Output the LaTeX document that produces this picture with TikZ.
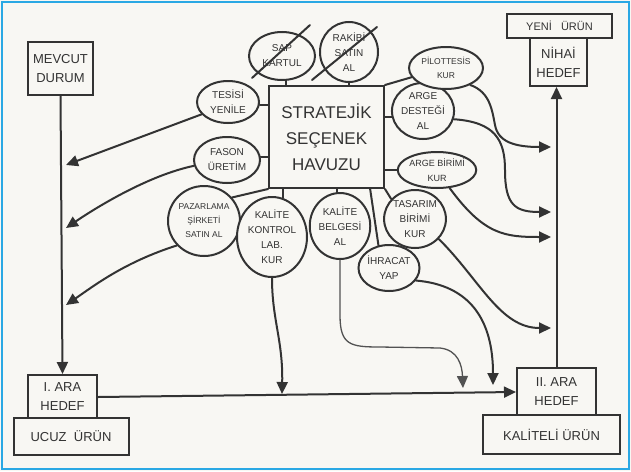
\documentclass[tikz,border=0pt]{standalone}
\usepackage{fontspec}
\setmainfont{Liberation Sans}
\usetikzlibrary{shapes.geometric,arrows.meta}
\definecolor{ink}{HTML}{333333}
\definecolor{paper}{HTML}{F8F7F3}
\definecolor{frame}{HTML}{2AA8E4}
\tikzset{
  ln/.style={draw=ink,line width=2pt,line cap=round,line join=round},
  arr/.style={ln,-{Triangle[length=12pt,width=11pt]}},
  box/.style={rectangle,draw=ink,line width=2pt,fill=paper,inner sep=0pt,align=center,text=ink,font=\fontsize{13}{19}\selectfont},
  oval/.style={ellipse,draw=ink,line width=2pt,fill=paper,inner sep=0pt,align=center,text=ink,font=\fontsize{10}{15}\selectfont},
}
\begin{document}
\begin{tikzpicture}[x=1pt,y=-1pt]
\useasboundingbox (0,0) rectangle (631,471);
\fill[paper] (0,0) rectangle (631,471);
\draw[frame,line width=2.2pt] (2,2) rectangle (629,469);

% boxes
\node[box,minimum width=65pt,minimum height=53pt] (mevcut) at (60.5,68.5) {MEVCUT\\DURUM};
\node[box,minimum width=69pt,minimum height=44pt] (iara) at (62.5,397) {I. ARA\\HEDEF};
\node[box,minimum width=115pt,minimum height=37pt] (ucuz) at (71,436) {UCUZ \ ÜRÜN};
\node[box,minimum width=79pt,minimum height=48pt] (iiara) at (556.5,392) {II. ARA\\HEDEF};
\node[box,minimum width=137pt,minimum height=39pt] (kaliteli) at (551.5,434.5) {KALİTELİ ÜRÜN};
\node[box,minimum width=57pt,minimum height=48pt] (nihai) at (558.5,62) {NİHAİ\\HEDEF};
\node[box,minimum width=105pt,minimum height=24pt,font=\fontsize{11}{14}\selectfont] (yeni) at (559.5,26) {YENİ \ \ ÜRÜN};
\node[box,minimum width=115pt,minimum height=102pt,font=\fontsize{17}{26}\selectfont] (havuz) at (326.5,137) {STRATEJİK\\SEÇENEK\\HAVUZU};

% options
\node[oval,minimum width=66pt,minimum height=48pt] (sap) at (282,56) {SAP\\KARTUL};
\node[oval,minimum width=58pt,minimum height=60pt] (rakibi) at (349,52) {RAKİBİ\\SATIN\\AL};
\node[oval,minimum width=62pt,minimum height=42pt] (tesisi) at (228,102) {TESİSİ\\YENİLE};
\node[oval,minimum width=66pt,minimum height=46pt] (fason) at (227,160) {FASON\\ÜRETİM};
\node[oval,minimum width=72pt,minimum height=70pt,font=\fontsize{8.5}{14}\selectfont] (pazar) at (204,221) {PAZARLAMA\\ŞİRKETİ\\SATIN AL};
\node[oval,minimum width=70pt,minimum height=80pt] (kkontrol) at (272,237) {KALİTE\\KONTROL\\LAB.\\KUR};
\node[oval,minimum width=56pt,minimum height=66pt] (kbelge) at (340,226) {KALİTE\\BELGESİ\\AL};
\node[oval,minimum width=58pt,minimum height=46pt] (ihracat) at (389,268) {İHRACAT\\YAP};
\node[oval,minimum width=56pt,minimum height=58pt] (tasarim) at (415,219) {TASARIM\\BİRİMİ\\KUR};
\node[oval,minimum width=78pt,minimum height=36pt,font=\fontsize{9}{15}\selectfont] (argebirim) at (437,170) {ARGE BİRİMİ\\KUR};
\node[oval,minimum width=56pt,minimum height=56pt] (argedest) at (423,111) {ARGE\\DESTEĞİ\\AL};
\node[oval,minimum width=74pt,minimum height=42pt,font=\fontsize{8.5}{14}\selectfont] (pilot) at (446,68) {PİLOTTESİS\\KUR};

% strike-outs
\draw[ln] (252,78) -- (310,25);
\draw[ln] (312,80) -- (377,27);

% short connectors to the pool
\draw[ln] (sap.-80) -- (sap.-80 |- havuz.north);
\draw[ln] (rakibi.south) -- (rakibi.south |- havuz.north);
\draw[ln] (tesisi.-5) -- (tesisi.-5 -| havuz.west);
\draw[ln] (fason.5) -- (fason.5 -| havuz.west);
\draw[ln] (pazar.40) -- (havuz.south west);
\draw[ln] (kkontrol.75) -- (kkontrol.75 |- havuz.south);
\draw[ln] (kbelge.95) -- (kbelge.95 |- havuz.south);
\draw[ln] (havuz.-50) -- (ihracat.115);
\draw[ln] (havuz.south east) -- (tasarim.140);
\draw[ln] (argebirim.west) -- (argebirim.west -| havuz.east);
\draw[ln] (argedest.-170) -- (argedest.-170 -| havuz.east);
\draw[ln] (havuz.north east) -- (pilot.195);

% free ends
\coordinate (l1) at (66,165);
\coordinate (l2) at (66,228);
\coordinate (l3) at (66,305);
\coordinate (b1) at (282,394);
\coordinate (b2) at (463,388);
\coordinate (b3) at (493,385);
\coordinate (r1) at (551,147);
\coordinate (r2) at (551,212);
\coordinate (r3) at (551,237);
\coordinate (r4) at (551,328);

% main flow
\draw[arr] (mevcut.south) -- (iara.north);
\draw[arr] (iara.east) -- (iiara.west);
\draw[arr] (iiara.north) -- (iiara.north |- nihai.south);

% left arrows
\draw[arr] (tesisi.205) -- (l1);
\draw[arr] (fason.190) .. controls (150,175) and (100,205) .. (l2);
\draw[arr] (pazar.222) .. controls (125,262) and (95,285) .. (l3);

% down arrows
\draw[arr] (kkontrol.south) .. controls (272,320) and (283,340) .. (b1);
\draw[arr,line width=1.3pt,draw=ink!85] (kbelge.south) -- (340,315) .. controls (340,345) and (350,347) .. (380,347) -- (440,348) .. controls (458,350) and (462,365) .. (b2);
\draw[arr] (ihracat.-25) .. controls (470,285) and (493,320) .. (b3);

% right arrows
\draw[arr] (pilot.-35) .. controls (490,92) and (492,110) .. (495,125) .. controls (498,142) and (515,147) .. (r1);
\draw[arr] (argedest.-15) .. controls (495,122) and (505,140) .. (505,170) .. controls (505,205) and (515,212) .. (r2);
\draw[arr] (argebirim.-55) .. controls (484,235) and (505,237) .. (r3);
\draw[arr] (tasarim.-40) .. controls (480,280) and (500,328) .. (r4);
\end{tikzpicture}
\end{document}
